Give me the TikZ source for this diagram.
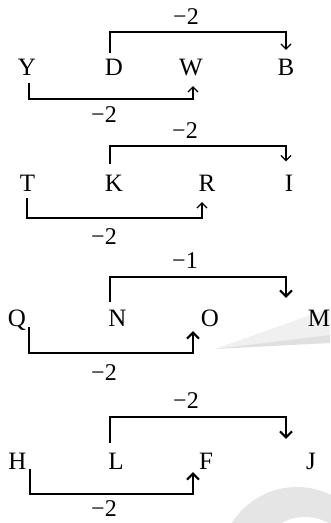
\documentclass[tikz,border=0pt]{standalone}
\usepackage{fontspec}
\setmainfont{Liberation Serif}
\usetikzlibrary{arrows.meta}
\begin{document}
\begin{tikzpicture}[x=1pt,y=-1pt,
  letter/.style={font=\fontsize{25}{29}\selectfont,inner sep=0pt,text height=16.5pt,text depth=0pt,anchor=center},
  lab/.style={font=\fontsize{24}{28}\selectfont,inner sep=0pt,anchor=center},
  thin/.style={line width=1.2pt,-{Straight Barb[length=5pt,width=10pt,line width=1.2pt]}},
  thick/.style={line width=2pt,-{Straight Barb[length=6pt,width=12pt,line width=2pt]}},
  wm1/.style={fill=gray!12,draw=none},
  wm2/.style={fill=gray!24,draw=none}]
\useasboundingbox (0,0) rectangle (330,523);
% watermark shapes
\fill[wm1] (215,349) -- (330,308) -- (330,340) -- cycle;
\fill[wm2] (215,349) -- (330,335) -- (330,343) -- cycle;
\fill[gray!20] (297,564) circle[radius=77];
\fill[white] (305,565) circle[radius=48];
% ---------- panel 1
\node[letter] (Y) at (27,67) {Y};
\node[letter] (D) at (114,67) {D};
\node[letter] (W) at (191,67) {W};
\node[letter] (B) at (286,67) {B};
\node[lab] (l1a) at (186,17) {−2};
\node[lab] (l1b) at (104,115) {−2};
\draw[thin,shorten <=5.75pt,shorten >=8.75pt] ([xshift=-4pt]D.north) -- ([xshift=-4pt]D.north |- 0,32) -| (B.north);
\draw[thin,shorten <=7.75pt,shorten >=10.75pt] ([xshift=2pt]Y.south) -- ([xshift=2pt]Y.south |- 0,99) -| ([xshift=2pt]W.south);
% ---------- panel 2
\node[letter] (T) at (27.5,183) {T};
\node[letter] (K) at (114,183) {K};
\node[letter] (R) at (207,183) {R};
\node[letter] (I) at (289,183) {I};
\node[lab] (l2a) at (185,131) {−2};
\node[lab] (l2b) at (104,237) {−2};
\draw[thin,shorten <=10.75pt,shorten >=13.25pt] ([xshift=-4pt]K.north) -- ([xshift=-4pt]K.north |- 0,146) -| ([xshift=-3pt]I.north);
\draw[thin,shorten <=6.75pt,shorten >=10.75pt] ([xshift=-0.5pt]T.south) -- ([xshift=-0.5pt]T.south |- 0,218) -| ([xshift=-5pt]R.south);
% ---------- panel 3
\node[letter] (Q) at (17,318) {Q};
\node[letter] (N) at (117.5,318) {N};
\node[letter] (O) at (210,318) {O};
\node[letter] (M) at (319,318) {M};
\node[lab] (l3a) at (185,261) {−1};
\node[lab] (l3b) at (104,373) {−2};
\draw[thick,shorten <=7.75pt,shorten >=11.75pt] ([xshift=-7.5pt]N.north) -- ([xshift=-7.5pt]N.north |- 0,277) -| ([xshift=-33pt]M.north);
\draw[thick,shorten <=0.75pt,shorten >=4.75pt] ([xshift=12pt]Q.south) -- ([xshift=12pt]Q.south |- 0,353) -| ([xshift=-17pt]O.south);
% ---------- panel 4
\node[letter] (H) at (17.5,461) {H};
\node[letter] (L) at (116,461) {L};
\node[letter] (F) at (206,461) {F};
\node[letter] (J) at (311,461) {J};
\node[lab] (l4a) at (186,401) {−2};
\node[lab] (l4b) at (104,509) {−2};
\draw[thick,shorten <=9.75pt,shorten >=13.75pt] ([xshift=-6pt]L.north) -- ([xshift=-6pt]L.north |- 0,417) -| ([xshift=-25pt]J.north);
\draw[thick,shorten >=2.75pt] ([xshift=12.5pt]H.south) -- ([xshift=12.5pt]H.south |- 0,494) -| ([xshift=-13pt]F.south);
\end{tikzpicture}
\end{document}
